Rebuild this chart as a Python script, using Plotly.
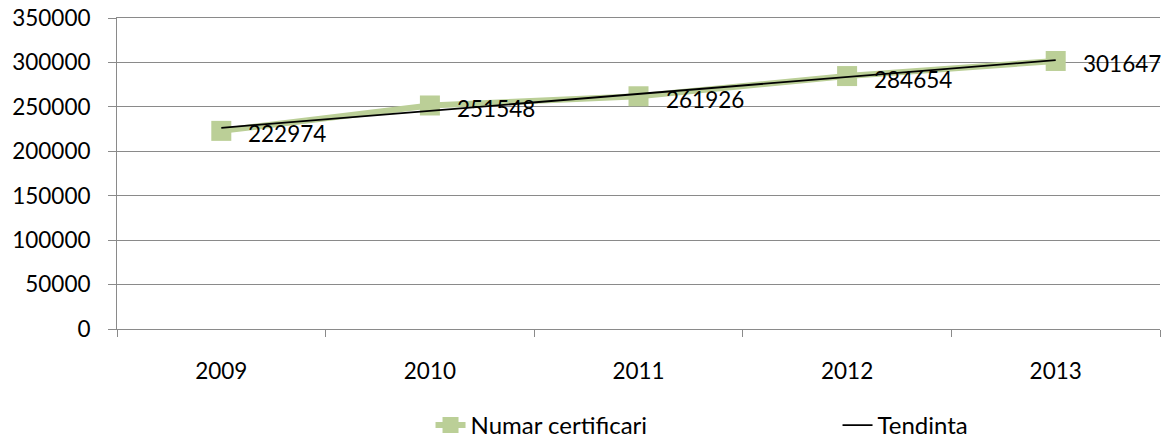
import plotly.graph_objects as go

years = ["2009", "2010", "2011", "2012", "2013"]
certificari = [222974, 251548, 261926, 284654, 301647]
tendinta = [226459, 245505, 264550, 283595, 302640]
y_ticks = [0, 50000, 100000, 150000, 200000, 250000, 300000, 350000]

FONT = "Lato"
FS = 22.5
GRID = "#8a8a8a"
GREEN = "#BBCF97"

fig = go.Figure()
fig.add_trace(go.Scatter(
    x=years, y=certificari, name="Numar certificari",
    mode="lines+markers",
    line=dict(color=GREEN, width=6),
    marker=dict(symbol="square", size=20, color=GREEN),
    cliponaxis=False,
))
fig.add_trace(go.Scatter(
    x=years, y=tendinta, name="Tendinta", mode="lines",
    line=dict(color="#000000", width=1.8),
    cliponaxis=False,
))

# data labels, placed to the right of each marker (x given as category index)
for i, v in enumerate(certificari):
    fig.add_annotation(
        x=i, y=v, xref="x", yref="y", text=str(v), showarrow=False,
        xanchor="left", yanchor="middle", xshift=25, yshift=-3,
        font=dict(family=FONT, size=FS, color="#000000"),
    )

# page body has an 8px default margin, so the figure is sized to fit the window
fig.update_layout(
    width=1165, height=431,
    margin=dict(l=109, r=13, t=10, b=110, autoexpand=False),
    paper_bgcolor="white", plot_bgcolor="white",
    font=dict(family=FONT, size=FS, color="#000000"),
    showlegend=True,
    legend=dict(orientation="h", x=0.3006, xanchor="left", y=-0.238, yanchor="top",
                entrywidth=362, font=dict(size=24)),
)
fig.update_xaxes(
    type="category", range=[-0.5, 4.5], tickson="boundaries", ticks="outside", ticklen=7,
    tickcolor=GRID, showline=True, linecolor=GRID, linewidth=1, mirror=True,
    showgrid=False, ticklabelstandoff=22, automargin=False,
)
fig.update_yaxes(
    range=[0, 350000], tickvals=y_ticks, ticktext=[str(v) for v in y_ticks],
    ticks="outside", ticklen=8, tickcolor=GRID, showline=True, linecolor=GRID,
    showgrid=True, gridcolor=GRID, gridwidth=1, zeroline=False,
    ticklabelstandoff=13, automargin=False, ticklabeloverflow="allow",
)

fig.write_html("out.html")
